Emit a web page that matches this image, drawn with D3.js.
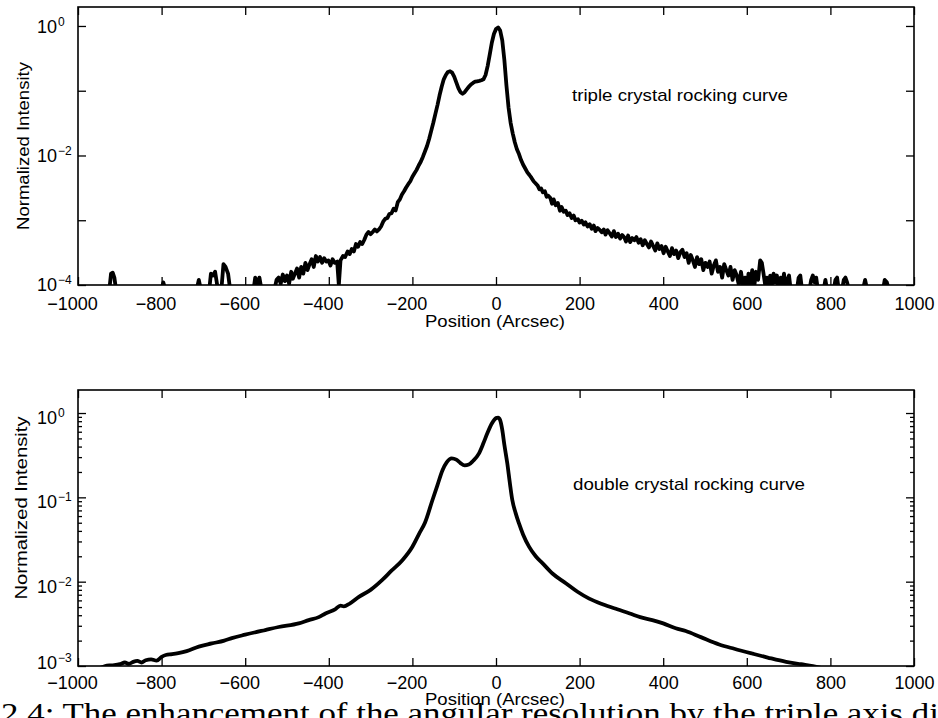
<!DOCTYPE html>
<html><head><meta charset="utf-8">
<script src="https://cdn.jsdelivr.net/npm/d3@7"></script>
<style>body{margin:0;background:#fff}svg{display:block}</style>
</head><body>
<svg id="c" width="938" height="718"></svg>
<script>
// ---------------- DATA ----------------
const xTicks = [-1000,-800,-600,-400,-200,0,200,400,600,800,1000];
const tripleYTicks = [1,1e-1,1e-2,1e-3,1e-4];
const tripleYLabelExps = [0,-2,-4];
const doubleYTicks = [1,1e-1,1e-2,1e-3];
const doubleYLabelExps = [0,-1,-2,-3];
const panelTitles = ["triple crystal rocking curve","double crystal rocking curve"];
const xAxisTitle = "Position (Arcsec)";
const yAxisTitle = "Normalized Intensity";
const captionText = "2.4: The enhancement of the angular resolution by the triple axis di";

// triple crystal rocking curve: [position (arcsec), normalized intensity]
const tripleCurve = [
[-1000,0.85e-4],[-925,0.85e-4],[-921,1.5e-4],[-917,1.55e-4],[-913,1.3e-4],[-909,0.85e-4],
[-800,0.85e-4],[-796,1.1e-4],[-791,0.85e-4],[-716,0.85e-4],[-711,1.2e-4],[-706,0.85e-4],
[-686,0.85e-4],[-682,1.5e-4],[-677,1.4e-4],[-672,1.6e-4],[-667,1.0e-4],[-657,0.85e-4],
[-652,2.1e-4],[-647,1.9e-4],[-641,1.5e-4],[-636,0.85e-4],[-580,0.85e-4],[-576,1.3e-4],
[-571,1.0e-4],[-566,1.3e-4],[-561,0.85e-4],[-530,0.85e-4],[-525,1.2e-4],[-520,1.3e-4],
[-515,1.05e-4],[-510,1.45e-4],[-505,1.15e-4],[-500,1.4e-4],[-495,1.05e-4],[-490,1.6e-4],
[-486,1.25e-4],[-481,1.5e-4],[-476,1.8e-4],[-471,1.3e-4],[-466,1.9e-4],[-461,1.5e-4],
[-456,2.2e-4],[-451,1.7e-4],[-446,2.1e-4],[-441,2.5e-4],[-436,1.9e-4],[-431,2.8e-4],
[-426,2.3e-4],[-421,2.7e-4],[-416,2.2e-4],[-411,2.6e-4],[-406,2.3e-4],[-401,2.4e-4],
[-396,2.0e-4],[-391,2.5e-4],[-386,2.2e-4],[-380,2.3e-4],[-376,1.0e-4],[-372,2.4e-4],
[-366,2.8e-4],[-361,2.7e-4],[-355,3.3e-4],[-350,3.0e-4],[-345,3.6e-4],[-340,3.3e-4],
[-335,4.3e-4],[-330,3.9e-4],[-325,4.6e-4],[-320,4.3e-4],[-315,5.0e-4],[-310,6.0e-4],
[-305,6.6e-4],[-300,6.1e-4],[-295,6.6e-4],[-290,7.2e-4],[-285,6.7e-4],[-280,7.2e-4],
[-275,8.0e-4],[-270,9.5e-4],[-265,1.05e-3],[-260,1.08e-3],[-255,1.25e-3],[-250,1.28e-3],
[-245,1.5e-3],[-240,1.42e-3],[-235,1.9e-3],[-230,2.1e-3],[-225,2.5e-3],[-220,2.8e-3],
[-215,3.2e-3],[-210,3.6e-3],[-205,4.0e-3],[-200,4.7e-3],[-195,5.3e-3],[-190,6.0e-3],
[-185,7.0e-3],[-180,8.0e-3],[-175,9.5e-3],[-170,1.15e-2],[-165,1.4e-2],[-160,1.8e-2],
[-155,2.4e-2],[-150,3.2e-2],[-145,4.4e-2],[-140,6.0e-2],[-135,8.5e-2],[-130,0.115],
[-125,0.15],[-120,0.175],[-115,0.195],[-110,0.2],[-105,0.19],[-100,0.165],[-95,0.135],
[-90,0.11],[-85,0.095],[-80,0.09],[-75,0.095],[-70,0.105],[-65,0.115],[-60,0.125],
[-55,0.132],[-50,0.138],[-45,0.14],[-40,0.142],[-35,0.145],[-30,0.15],[-25,0.175],
[-20,0.24],[-15,0.36],[-10,0.55],[-5,0.75],[0,0.9],[5,0.95],[10,0.85],[15,0.6],
[20,0.3],[25,0.12],[30,0.055],[35,0.032],[40,0.022],[45,0.016],[50,0.0125],[55,0.0105],
[60,0.0085],[65,0.0072],[70,0.0063],[75,0.0055],[80,0.005],[85,0.0045],[90,0.004],
[95,0.0037],[100,0.0034],[104,0.003],[108,0.0031],[112,0.0027],[117,0.0028],[121,0.0023],
[125,0.0024],[130,0.0022],[134,0.0018],[138,0.0021],[143,0.0017],[148,0.00185],[153,0.0014],
[157,0.0016],[162,0.00135],[167,0.0014],[171,0.0012],[176,0.00128],[181,0.00108],[186,0.00118],
[190,0.001],[196,0.00104],[200,0.00092],[205,0.00098],[210,0.00086],[214,0.00093],[219,0.0008],
[224,0.00087],[229,0.00074],[234,0.00083],[238,0.00068],[243,0.00076],[248,0.00071],[253,0.00065],
[258,0.00072],[262,0.0006],[267,0.0007],[272,0.00063],[277,0.00056],[282,0.00068],[287,0.00055],
[292,0.00062],[297,0.00052],[302,0.00059],[307,0.00054],[311,0.00047],[316,0.00058],[321,0.00046],
[326,0.00053],[331,0.00049],[336,0.00055],[341,0.00045],[346,0.00051],[351,0.00041],[356,0.00049],
[361,0.00043],[366,0.00038],[371,0.00047],[376,0.0004],[381,0.00034],[386,0.00044],[391,0.00036],
[396,0.0004],[401,0.00031],[406,0.00039],[411,0.00033],[416,0.00028],[421,0.00037],[426,0.0003],
[431,0.00034],[436,0.00026],[441,0.00032],[446,0.00035],[451,0.00027],[456,0.00031],[461,0.00022],
[466,0.00029],[471,0.00024],[476,0.00019],[481,0.00027],[486,0.00021],[491,0.00025],[496,0.00017],
[501,0.00022],[506,0.00019],[511,0.00023],[516,0.00015],[521,0.0002],[526,0.00024],[531,0.00016],
[536,0.00019],[541,0.00013],[546,0.00021],[551,0.00017],[556,0.00014],[561,0.00019],[566,0.00012],
[571,0.00017],[576,0.00014],[581,0.0001],[586,0.00016],[591,0.0001],[596,0.00013],[600,0.85e-4],
[604,0.00015],[608,0.0001],[613,0.00017],[617,0.85e-4],[622,0.00016],[627,0.00012],[632,0.00024],
[636,0.00022],[640,0.00015],[644,0.0001],[648,0.00013],[652,0.85e-4],[656,0.00014],[660,0.0001],
[664,0.00015],[668,0.00011],[672,0.00014],[676,0.85e-4],[681,0.00013],[685,0.0001],[689,0.00015],
[693,0.85e-4],[697,0.00012],[701,0.00014],[705,0.85e-4],[720,0.85e-4],[724,0.00013],[728,0.00014],
[732,0.85e-4],[750,0.85e-4],[754,0.00012],[758,0.00014],[762,0.00011],[766,0.00013],[770,0.85e-4],
[784,0.85e-4],[788,0.00012],[792,0.85e-4],[808,0.85e-4],[812,0.00012],[816,0.00013],[820,0.85e-4],
[828,0.85e-4],[832,0.00012],[836,0.00013],[840,0.00011],[844,0.85e-4],[878,0.85e-4],[883,0.00012],
[888,0.85e-4],[926,0.85e-4],[930,0.00012],[935,0.00011],[940,0.85e-4]
];

// double crystal rocking curve: [position (arcsec), normalized intensity]
const doubleCurve = [
[-950,0.93e-3],[-935,1.0e-3],[-919,1.02e-3],[-900,1.05e-3],[-888,1.1e-3],[-878,1.06e-3],
[-868,1.12e-3],[-858,1.15e-3],[-848,1.1e-3],[-838,1.17e-3],[-825,1.2e-3],[-812,1.16e-3],
[-800,1.28e-3],[-790,1.35e-3],[-775,1.38e-3],[-760,1.42e-3],[-740,1.5e-3],[-711,1.7e-3],
[-680,1.85e-3],[-650,2.0e-3],[-632,2.14e-3],[-600,2.35e-3],[-552,2.67e-3],[-520,2.9e-3],
[-472,3.2e-3],[-448,3.5e-3],[-424,3.8e-3],[-408,4.2e-3],[-385,4.7e-3],[-372,5.2e-3],
[-364,5.1e-3],[-350,5.5e-3],[-328,6.6e-3],[-300,8.0e-3],[-272,1.05e-2],[-250,1.35e-2],
[-224,1.8e-2],[-200,2.6e-2],[-184,3.7e-2],[-170,5.0e-2],[-152,9.3e-2],[-140,0.14],
[-128,0.21],[-118,0.26],[-106,0.29],[-95,0.28],[-85,0.255],[-75,0.24],[-65,0.245],
[-55,0.27],[-41,0.33],[-30,0.44],[-21,0.57],[-10,0.75],[0,0.87],[5,0.88],[10,0.82],
[15,0.63],[20,0.42],[27,0.253],[33,0.15],[39,0.093],[47,0.065],[55,0.049],[65,0.036],
[79,0.026],[95,0.02],[111,0.0166],[135,0.0125],[167,0.0096],[195,0.0076],[223,0.0063],
[255,0.0054],[290,0.0047],[320,0.0042],[345,0.0038],[374,0.0035],[400,0.0032],
[430,0.0028],[454,0.0026],[490,0.0022],[534,0.0018],[570,0.0016],[614,0.0014],
[650,0.00126],[694,0.00112],[730,0.00105],[758,0.001],[785,0.00093]
];

// ---------------- DRAW ----------------
const svg = d3.select("#c");
svg.append("rect").attr("width",938).attr("height",718).attr("fill","#fff");
const FONT = "'Liberation Sans', Arial, Helvetica, sans-serif";

// caption (behind everything)
svg.append("text").attr("x",1).attr("y",723)
  .attr("font-family","'Liberation Serif', 'DejaVu Serif', serif").attr("font-size",30)
  .attr("textLength",938).attr("lengthAdjust","spacingAndGlyphs")
  .attr("fill","#000").text(captionText);

const panels = [
  {x0:78,x1:914,y0:7,y1:285,ymin:1e-4,ymax:Math.pow(10,0.293),
   data:tripleCurve, curve:d3.curveLinear, majors:tripleYTicks, minors:[], labelExps:tripleYLabelExps,
   labelOff:[7,7,6], xPad:12, xTitleY:327, yTitle:{x:29,y:146,len:168},
   title:{x:572,y:101,len:216,text:panelTitles[0]}, clip:"clipA"},
  {x0:78,x1:914,y0:390,y1:666,ymin:1e-3,ymax:Math.pow(10,0.273),
   data:doubleCurve, curve:d3.curveMonotoneX, majors:doubleYTicks,
   minors:[1e-3,1e-2,1e-1].flatMap(d=>d3.range(2,10).map(k=>k*d)),
   labelExps:doubleYLabelExps,
   labelOff:[11,11,11,3], xPad:10, xTitleY:705, yTitle:{x:27,y:508,len:183},
   title:{x:573,y:490,len:232,text:panelTitles[1]}, clip:"clipB"}
];

const defs = svg.append("defs");

panels.forEach(p=>{
  const x = d3.scaleLinear().domain([-1000,1000]).range([p.x0,p.x1]);
  const y = d3.scaleLog().domain([p.ymin,p.ymax]).range([p.y1,p.y0]);
  const W = p.x1-p.x0, H = p.y1-p.y0;

  defs.append("clipPath").attr("id",p.clip).append("rect")
    .attr("x",p.x0).attr("y",p.y0).attr("width",W).attr("height",H);

  // curve
  const line = d3.line().x(d=>x(d[0])).y(d=>y(d[1])).curve(p.curve);
  svg.append("path").datum(p.data).attr("d",line)
    .attr("clip-path",`url(#${p.clip})`)
    .attr("fill","none").attr("stroke","#000").attr("stroke-width",3.8)
    .attr("stroke-linejoin","round").attr("stroke-linecap","round");

  // x axes (bottom with labels, top ticks only)
  const gxb = svg.append("g").attr("transform",`translate(0,${p.y1})`)
    .call(d3.axisBottom(x).tickValues(xTicks).tickSizeInner(-8).tickSizeOuter(0)
      .tickPadding(p.xPad).tickFormat(d3.format("d")));
  gxb.selectAll("text").attr("font-family",FONT).attr("font-size",18).attr("fill","#000")
    .attr("dx",d=>d<0?-6:0);
  const gxt = svg.append("g").attr("transform",`translate(0,${p.y0})`)
    .call(d3.axisTop(x).tickValues(xTicks).tickSizeInner(-8).tickSizeOuter(0).tickFormat(""));

  // y axes major/minor, left & right
  const gyl = svg.append("g").attr("transform",`translate(${p.x0},0)`)
    .call(d3.axisLeft(y).tickValues(p.majors).tickSizeInner(-8).tickSizeOuter(0).tickFormat(""));
  const gyr = svg.append("g").attr("transform",`translate(${p.x1},0)`)
    .call(d3.axisRight(y).tickValues(p.majors).tickSizeInner(-8).tickSizeOuter(0).tickFormat(""));
  const gyl2 = svg.append("g").attr("transform",`translate(${p.x0},0)`)
    .call(d3.axisLeft(y).tickValues(p.minors).tickSizeInner(-4).tickSizeOuter(0).tickFormat(""));
  const gyr2 = svg.append("g").attr("transform",`translate(${p.x1},0)`)
    .call(d3.axisRight(y).tickValues(p.minors).tickSizeInner(-4).tickSizeOuter(0).tickFormat(""));
  [gxb,gxt,gyl,gyr,gyl2,gyr2].forEach(g=>{
    g.select(".domain").remove();
    g.selectAll("line").attr("stroke","#000").attr("stroke-width",1.3);
  });

  // y tick labels 10^n
  p.labelExps.forEach((e,i)=>{
    const t = svg.append("text").attr("x",37).attr("y",y(Math.pow(10,e))+p.labelOff[i])
      .attr("font-family",FONT).attr("font-size",18).attr("fill","#000");
    t.append("tspan").text("10");
    t.append("tspan").attr("dy",-7).attr("dx",1).attr("font-size",12)
      .text(e<0 ? "\u2212"+(-e) : String(e));
  });

  // frame
  svg.append("rect").attr("x",p.x0).attr("y",p.y0).attr("width",W).attr("height",H)
    .attr("fill","none").attr("stroke","#000").attr("stroke-width",1.6);

  // axis titles
  svg.append("text").attr("x",495).attr("y",p.xTitleY).attr("text-anchor","middle")
    .attr("font-family",FONT).attr("font-size",17).attr("fill","#000")
    .attr("textLength",140).attr("lengthAdjust","spacingAndGlyphs").text(xAxisTitle);
  svg.append("text")
    .attr("transform",`translate(${p.yTitle.x},${p.yTitle.y}) rotate(-90)`)
    .attr("text-anchor","middle")
    .attr("font-family",FONT).attr("font-size",17).attr("fill","#000")
    .attr("textLength",p.yTitle.len).attr("lengthAdjust","spacingAndGlyphs").text(yAxisTitle);

  // panel annotation
  svg.append("text").attr("x",p.title.x).attr("y",p.title.y)
    .attr("font-family",FONT).attr("font-size",17).attr("fill","#000")
    .attr("textLength",p.title.len).attr("lengthAdjust","spacingAndGlyphs").text(p.title.text);
});
</script>
</body></html>
